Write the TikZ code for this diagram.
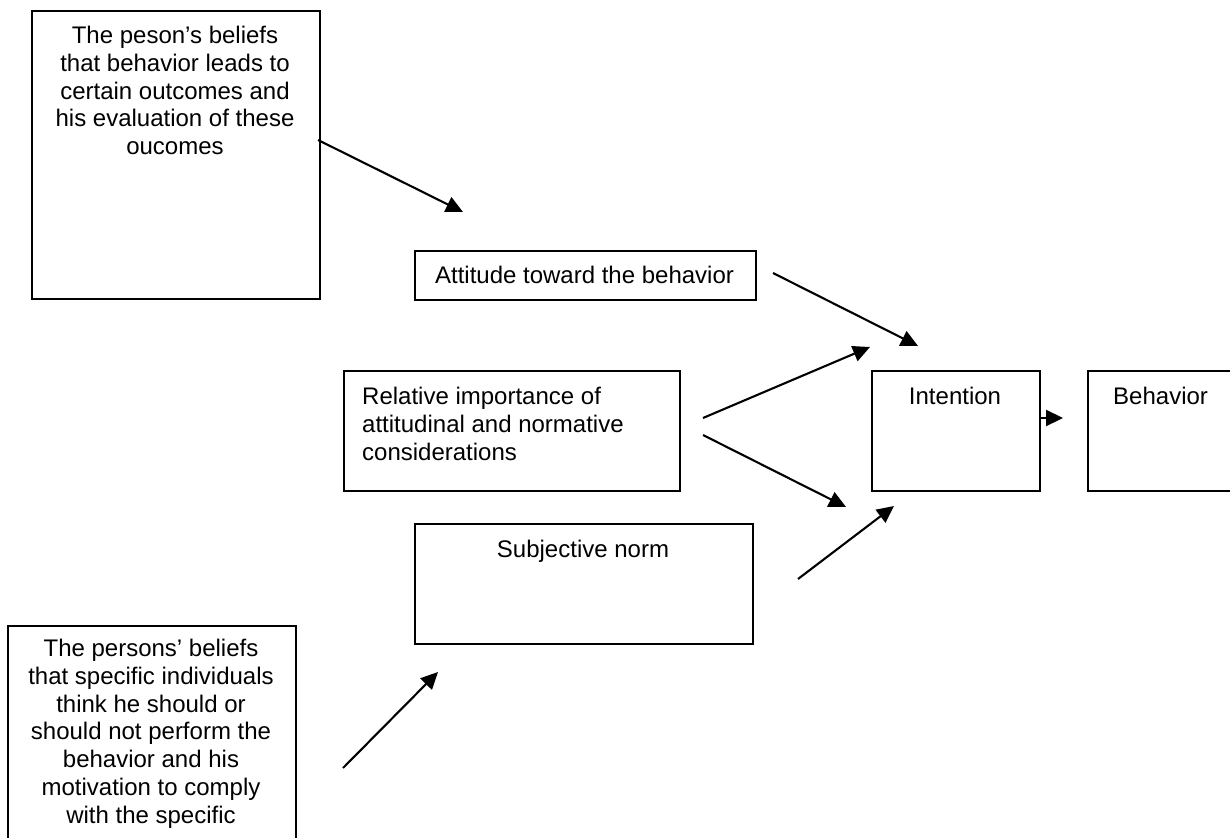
\documentclass[tikz,border=0pt]{standalone}
\usepackage{fontspec}
\setmainfont{Liberation Sans}
\usetikzlibrary{arrows.meta}
\begin{document}
\begin{tikzpicture}[x=1pt,y=-1pt,
  box/.style={draw, line width=1.8pt, inner sep=0pt, anchor=north west},
  txt/.style={inner sep=0pt, font=\fontsize{24}{27.75}\selectfont},
  link/.style={line width=2.1pt, -{Triangle[length=17pt,width=16pt]}}]
\useasboundingbox (0,0) rectangle (1230,837);

% boxes
\node[box, minimum width=288pt, minimum height=288pt] (beliefs) at (31,10) {};
\node[box, minimum width=341pt, minimum height=49pt] (attitude) at (414,250) {};
\node[box, minimum width=336pt, minimum height=120pt] (relative) at (343,370) {};
\node[box, minimum width=168pt, minimum height=120pt] (intention) at (871,370) {};
\node[box, minimum width=168pt, minimum height=120pt] (behavior) at (1087,370) {};
\node[box, minimum width=338pt, minimum height=120pt] (subjective) at (414,523) {};
\node[box, minimum width=288pt, minimum height=240pt] (normbeliefs) at (7,625) {};

% texts
\node[txt, align=center, anchor=north] (tbeliefs) at (175,26)
  {The peson’s beliefs\\that behavior leads to\\certain outcomes and\\his evaluation of these\\oucomes};
\node[txt, anchor=base] (tattitude) at (584.5,283) {Attitude toward the behavior};
\node[txt, align=left, anchor=north west] (trelative) at (362,387)
  {Relative importance of\\attitudinal and normative\\considerations};
\node[txt, anchor=base] (tintention) at (955,404) {Intention};
\node[txt, anchor=base west] (tbehavior) at (1113,404) {Behavior};
\node[txt, anchor=base] (tsubjective) at (583,557) {Subjective norm};
\node[txt, align=center, anchor=north] (tnormbeliefs) at (151,639)
  {The persons’ beliefs\\that specific individuals\\think he should or\\should not perform the\\behavior and his\\motivation to comply\\with the specific};

% connector end points
\coordinate (a1s) at (318,140);  \coordinate (a1e) at (463,212);
\coordinate (a2s) at (773,273);  \coordinate (a2e) at (918,346);
\coordinate (a3s) at (703,418);  \coordinate (a3e) at (870,347);
\coordinate (a4s) at (703,435);  \coordinate (a4e) at (846,507);
\coordinate (a5s) at (798,579);  \coordinate (a5e) at (894,506);
\coordinate (a6s) at (343,768);  \coordinate (a6e) at (438,672);
\coordinate (a7s) at (intention.east |- 0,418); \coordinate (a7e) at (1063,418);

% connectors
\draw[link] (a1s) -- (a1e);
\draw[link] (a2s) -- (a2e);
\draw[link] (a3s) -- (a3e);
\draw[link] (a4s) -- (a4e);
\draw[link] (a5s) -- (a5e);
\draw[link] (a6s) -- (a6e);
\draw[link] (a7s) -- (a7e);
\end{tikzpicture}
\end{document}
